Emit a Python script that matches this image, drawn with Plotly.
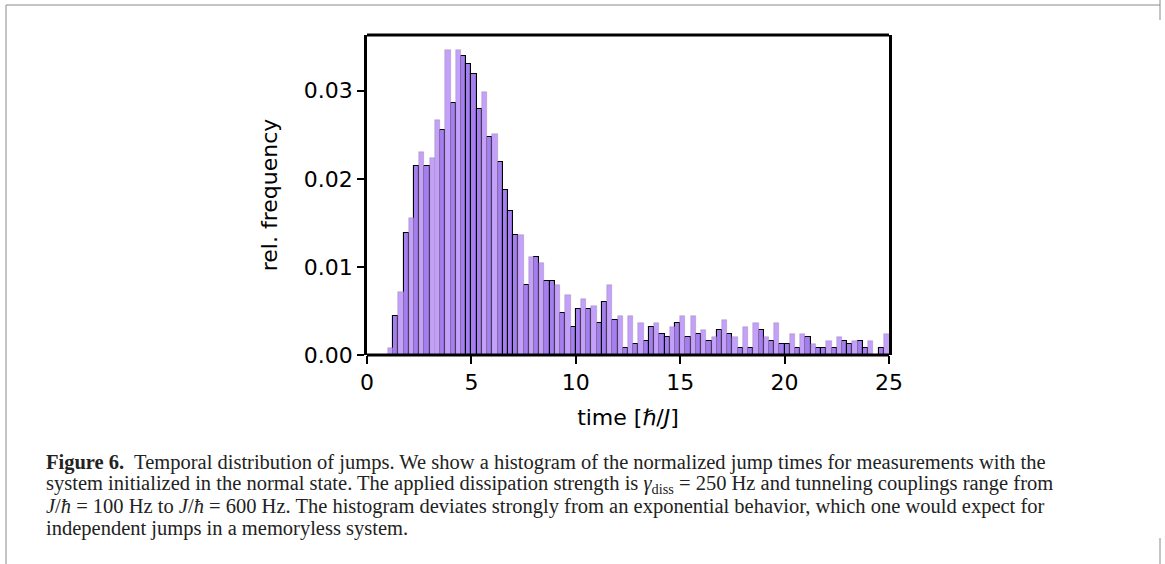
import plotly.graph_objects as go

# Histogram of normalized jump times: 96 bins of width 0.25 from t = 1 to t = 25.
bin_start = 1.0
bin_width = 0.25

# Relative frequency of the light series (None where the outlined series is on top)
light_freq = [
    0.0008, None, 0.0072, None, 0.0155, None, 0.0231, None, 0.0224, 0.0267,
    None, 0.0346, None, 0.0346, None, None, None, None, 0.0299, None,
    0.0251, None, None, None, None, 0.0136, None, 0.0111, None, 0.0104,
    None, None, 0.0080, None, 0.0068, None, None, 0.0064, None, 0.0056,
    None, None, 0.0080, None, 0.0044, None, 0.0044, None, 0.0036, None,
    None, 0.0036, None, None, 0.0032, None, 0.0044, None, 0.0044, None,
    0.0028, None, 0.0020, None, 0.0040, None, 0.0020, None, 0.0032, None,
    0.0036, None, 0.0020, None, 0.0036, None, None, 0.0024, None, 0.0024,
    None, 0.0012, None, None, 0.0016, None, 0.0020, None, None, 0.0016,
    None, None, 0.0016, None, None, 0.0024,
]

# Relative frequency of the outlined series (None where the light series is on top)
dark_freq = [
    None, 0.0044, None, 0.0139, None, 0.0215, None, 0.0215, None, None,
    0.0255, None, 0.0286, None, 0.0339, 0.0330, 0.0319, 0.0279, None, 0.0247,
    None, 0.0219, 0.0187, 0.0163, 0.0136, None, 0.0080, None, 0.0111, None,
    0.0084, 0.0084, None, 0.0048, None, 0.0032, 0.0052, None, 0.0052, None,
    0.0036, 0.0060, None, 0.0040, None, 0.0008, None, 0.0012, None, 0.0016,
    0.0032, None, 0.0024, 0.0020, None, 0.0036, None, 0.0020, None, 0.0024,
    None, 0.0016, None, 0.0028, None, 0.0024, None, 0.0008, None, 0.0008,
    None, 0.0028, None, 0.0016, None, 0.0012, 0.0012, None, 0.0008, None,
    0.0020, None, 0.0008, 0.0008, None, 0.0008, None, 0.0016, 0.0012, None,
    0.0016, 0.0008, None, None, 0.0008, None,
]

bin_centers = [bin_start + bin_width * (i + 0.5) for i in range(len(light_freq))]

x_ticks = [0, 5, 10, 15, 20, 25]
y_ticks = [0.0, 0.01, 0.02, 0.03]

caption_lines = [
    "<b>Figure 6.</b>  Temporal distribution of jumps. We show a histogram of the normalized jump times for measurements with the",
    "system initialized in the normal state. The applied dissipation strength is <i>γ</i><sub>diss</sub> = 250 Hz and tunneling couplings range from",
    "<i>J</i>/<i>ħ</i> = 100 Hz to <i>J</i>/<i>ħ</i> = 600 Hz. The histogram deviates strongly from an exponential behavior, which one would expect for",
    "independent jumps in a memoryless system.",
]

W, H = 1165, 564
L, R, T, B = 367, 889, 35, 355


def px_x(p):
    return (p - L) / (R - L)


def px_y(p):
    return (B - p) / (B - T)


def visible(values):
    """Keep only the bins where a series has a value."""
    pairs = [(c, v) for c, v in zip(bin_centers, values) if v is not None]
    return [c for c, _ in pairs], [v for _, v in pairs]


dark_x, dark_y = visible(dark_freq)
light_x, light_y = visible(light_freq)

fig = go.Figure()
fig.add_trace(go.Bar(
    x=dark_x, y=dark_y, width=bin_width,
    marker=dict(color="#A57EF0", line=dict(color="black", width=1.1)),
    showlegend=False,
))
fig.add_trace(go.Bar(
    x=light_x, y=light_y, width=bin_width,
    marker=dict(color="#C3A0F9", line=dict(color="rgba(120,110,130,0.45)", width=0.6)),
    showlegend=False,
))

ymax = 1.05 * max(light_y + dark_y)

axis_font = dict(family="DejaVu Sans", size=22, color="black")
fig.update_layout(
    width=W, height=H,
    margin=dict(l=L, r=W - R, t=T, b=H - B),
    paper_bgcolor="white", plot_bgcolor="white",
    barmode="overlay", bargap=0,
    xaxis=dict(
        range=[0, 25], tickvals=x_ticks, ticktext=[str(v) for v in x_ticks],
        showline=False,
        ticks="outside", ticklen=8, tickwidth=2.4, tickcolor="black",
        showgrid=False, zeroline=False, tickfont=axis_font,
        title=dict(text="time [<i>ℏ</i>/<i>J</i>]", font=axis_font, standoff=15),
    ),
    yaxis=dict(
        range=[0, ymax], tickvals=y_ticks, ticktext=[f"{v:.2f}" for v in y_ticks],
        showline=True, mirror=True, linecolor="black", linewidth=2.6,
        ticks="outside", ticklen=7, tickwidth=2.4, tickcolor="black",
        showgrid=False, zeroline=False, tickfont=axis_font,
        title=dict(text="rel. frequency", font=axis_font, standoff=21),
    ),
)

# Bottom and top spines, drawn over the bar bases so their lower outlines are hidden
for yp in (0, 1):
    fig.add_shape(type="line", xref="paper", yref="paper", x0=0, x1=1, y0=yp, y1=yp,
                  line=dict(color="black", width=2.8), layer="above")

# Caption below the plot
for i, line in enumerate(caption_lines):
    fig.add_annotation(
        text=line, xref="paper", yref="paper",
        x=px_x(44), y=px_y(462 + 22 * i),
        xanchor="left", yanchor="middle", showarrow=False,
        font=dict(family="Liberation Serif", size=20.5, color="#222222"),
    )

# Page frame
frame = dict(color="#8a8a8a", width=1)
fig.add_shape(type="line", xref="paper", yref="paper",
              x0=px_x(6), x1=px_x(6), y0=px_y(5), y1=px_y(564), line=frame)
fig.add_shape(type="line", xref="paper", yref="paper",
              x0=px_x(6), x1=px_x(1160), y0=px_y(5), y1=px_y(5), line=frame)
fig.add_shape(type="line", xref="paper", yref="paper",
              x0=px_x(1160), x1=px_x(1160), y0=px_y(0), y1=px_y(20), line=frame)
fig.add_shape(type="line", xref="paper", yref="paper",
              x0=px_x(1160), x1=px_x(1160), y0=px_y(538), y1=px_y(564), line=frame)

fig.write_html("out.html")
